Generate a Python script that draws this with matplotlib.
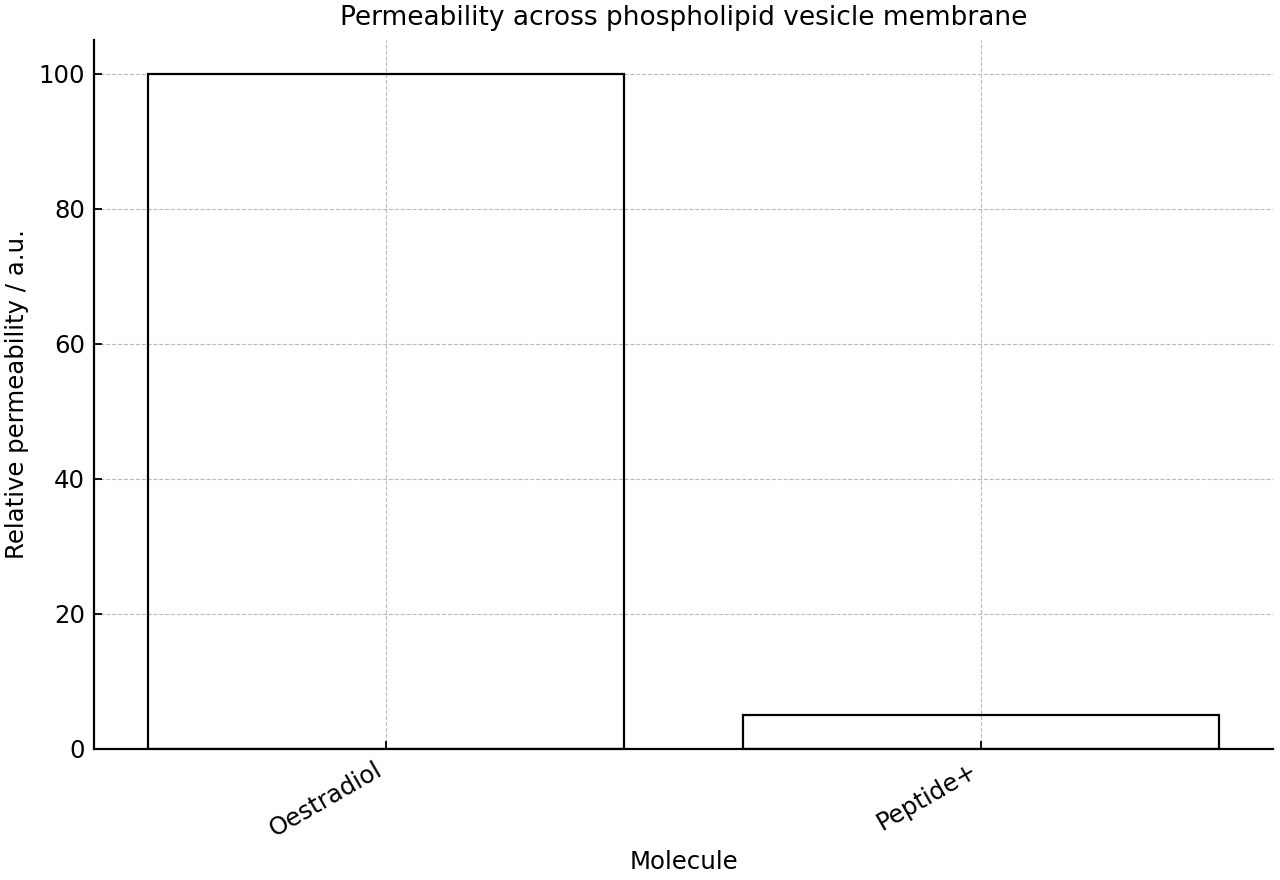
import matplotlib
matplotlib.use("Agg")
import matplotlib.pyplot as plt

# molecules and their relative permeability
molecules = ["Oestradiol", "Peptide+"]
permeability = [100, 5]

fig, ax = plt.subplots(figsize=(12.8, 8.8), dpi=100)

ax.bar(molecules, permeability, width=0.8, facecolor="none", edgecolor="black", linewidth=1.6, zorder=3)

ax.set_title("Permeability across phospholipid vesicle membrane", fontsize=19, pad=11)
ax.set_xlabel("Molecule", fontsize=17.6, labelpad=6)
ax.set_ylabel("Relative permeability / a.u.", fontsize=17.6, labelpad=7)

ax.grid(True, linestyle="--", color="#bbbbbb", linewidth=0.8, zorder=0)
ax.spines["top"].set_visible(False)
ax.spines["right"].set_visible(False)
ax.spines["left"].set_linewidth(1.6)
ax.spines["bottom"].set_linewidth(1.6)
ax.tick_params(direction="in", labelsize=17.6, width=1.3, length=6, pad=6.5)
plt.setp(ax.get_xticklabels(), rotation=30, ha="right")

fig.subplots_adjust(left=0.0734, right=0.9945, top=0.9545, bottom=0.1489)
fig.savefig("out.png")
